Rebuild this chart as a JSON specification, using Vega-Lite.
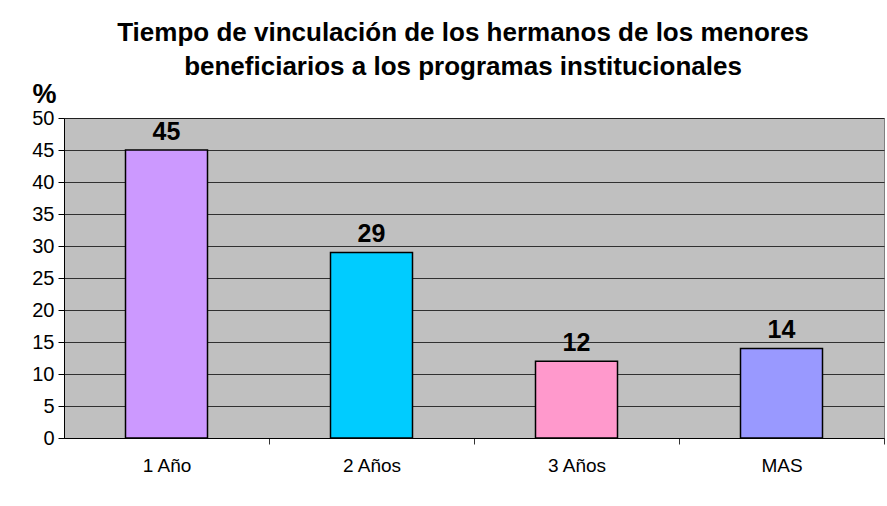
{
  "$schema": "https://vega.github.io/schema/vega-lite/v6.json",
  "width": 820,
  "height": 320,
  "autosize": {"type": "none"},
  "padding": {"left": 64, "top": 118, "right": 3, "bottom": 68},
  "background": "white",
  "title": {
    "text": ["Tiempo de vinculación de los hermanos de los menores", "beneficiarios a los programas institucionales"],
    "font": "Liberation Sans",
    "fontSize": 26,
    "fontWeight": "bold",
    "color": "black",
    "anchor": "middle",
    "frame": "group",
    "offset": 0,
    "lineHeight": 34,
    "dx": -11
  },
  "config": {
    "view": {"fill": "#C0C0C0", "stroke": "#808080", "strokeWidth": 1},
    "axis": {"labelFont": "Liberation Sans", "titleFont": "Liberation Sans", "labelColor": "black", "domainColor": "black", "tickColor": "black"}
  },
  "data": {
    "values": [
      {"cat": "1 Año", "pct": 45, "color": "#CC99FF"},
      {"cat": "2 Años", "pct": 29, "color": "#00CCFF"},
      {"cat": "3 Años", "pct": 12, "color": "#FF99CC"},
      {"cat": "MAS", "pct": 14, "color": "#9999FF"}
    ]
  },
  "encoding": {
    "x": {
      "field": "cat",
      "type": "nominal",
      "sort": null,
      "scale": {"paddingInner": 0.6, "paddingOuter": 0.3},
      "axis": {
        "title": null,
        "labelAngle": 0,
        "labelFontSize": 19,
        "labelPadding": 12,
        "tickOffset": 102.5,
        "labelOffset": -102.5,
        "tickSize": 6,
        "tickWidth": 1,
        "tickColor": "#333333",
        "ticks": true,
        "domain": true,
        "grid": false
      }
    },
    "y": {
      "field": "pct",
      "type": "quantitative",
      "scale": {"domain": [0, 50], "nice": false},
      "axis": {
        "values": [0, 5, 10, 15, 20, 25, 30, 35, 40, 45, 50],
        "title": "%",
        "titleAngle": 0,
        "titleFontSize": 27,
        "titleFontWeight": "bold",
        "titleAlign": "center",
        "titleBaseline": "alphabetic",
        "titleX": -20,
        "titleY": -16,
        "labelFontSize": 20,
        "labelPadding": 4,
        "tickSize": 6,
        "grid": true,
        "gridColor": "black",
        "gridOpacity": 0.75,
        "domainColor": "black"
      }
    }
  },
  "layer": [
    {
      "mark": {"type": "bar", "stroke": "black", "strokeWidth": 1.5},
      "encoding": {
        "color": {"field": "color", "type": "nominal", "scale": null}
      }
    },
    {
      "mark": {"type": "text", "dy": -18, "font": "Liberation Sans", "fontSize": 25, "fontWeight": "bold", "color": "black"},
      "encoding": {"text": {"field": "pct", "type": "quantitative"}}
    }
  ]
}
